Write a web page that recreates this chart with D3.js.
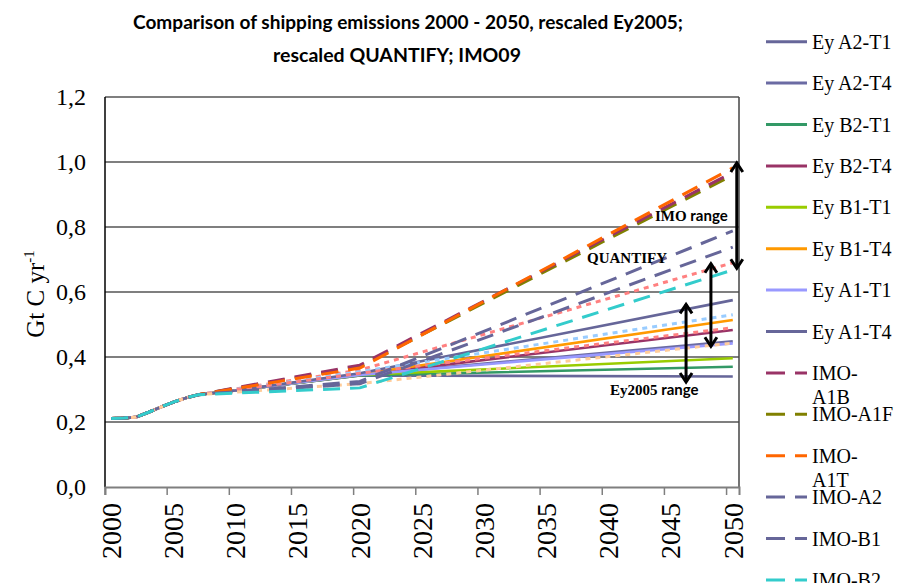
<!DOCTYPE html>
<html><head><meta charset="utf-8">
<script src="https://cdn.jsdelivr.net/npm/d3@7"></script>
<style>body{margin:0;background:#fff} svg{display:block}</style>
</head><body>
<svg id="chart" width="901" height="583"></svg>
<script>
// ---------- DATA ----------
const categories = ["2000","2001","2002","2003","2004","2005","2006","2007","2008","2009",
  "2010","2011","2012","2013","2014","2015","2016","2017","2018","2019",
  "2020","2021","2022","2023","2024","2025","2026","2027","2028","2029",
  "2030","2031","2032","2033","2034","2035","2036","2037","2038","2039",
  "2040","2041","2042","2043","2044","2045","2046","2047","2048","2049","2050"];
const xTickLabels = ["2000","2005","2010","2015","2020","2025","2030","2035","2040","2045","2050"];
const yTicks = [0.0, 0.2, 0.4, 0.6, 0.8, 1.0, 1.2];

// shared historical emissions
const histYears  = ["2000","2001","2002","2003","2004","2005","2006","2007"];
const histValues = [0.211, 0.212, 0.215, 0.230, 0.246, 0.261, 0.274, 0.284];

// scenario points after the shared history
const eyYears = ["2010","2020","2050"];
const eyA2T1 = [0.297, 0.343, 0.340];
const eyA2T4 = [0.297, 0.345, 0.448];
const eyB2T1 = [0.297, 0.343, 0.370];
const eyB2T4 = [0.297, 0.345, 0.483];
const eyB1T1 = [0.297, 0.345, 0.396];
const eyB1T4 = [0.297, 0.347, 0.514];
const eyA1T1 = [0.297, 0.345, 0.442];
const eyA1T4 = [0.297, 0.350, 0.575];

const imoYears = ["2020","2050"];
const imoA1B = [0.375, 0.968];
const imoA1F = [0.370, 0.960];
const imoA1T = [0.366, 0.982];
const imoA2  = [0.325, 0.788];
const imoB1  = [0.318, 0.738];
const imoB2  = [0.305, 0.668];

const qYears = ["2020","2050"];
const qA = [0.360, 0.690];
const qB = [0.355, 0.530];
const qC = [0.350, 0.490];
const qD = [0.318, 0.443];

const seriesNames  = ["Ey A2-T1","Ey A2-T4","Ey B2-T1","Ey B2-T4","Ey B1-T1","Ey B1-T4","Ey A1-T1","Ey A1-T4",
  "IMO-A1B","IMO-A1F","IMO-A1T","IMO-A2","IMO-B1","IMO-B2",
  "QUANTIFY-A1","QUANTIFY-A2","QUANTIFY-B1","QUANTIFY-B2"];
const seriesColors = ["#666699","#6b6ba3","#339966","#993366","#99cc00","#ff9900","#9999ff","#666699",
  "#993366","#808000","#ff6600","#666699","#666699","#33cccc",
  "#ff8080","#99ccff","#ff8080","#ffcc99"];
const seriesKind   = ["solid","solid","solid","solid","solid","solid","solid","solid",
  "dash","dash","dash","dash","dash","dash","dot","dot","dot","dot"];
const seriesYears  = [eyYears,eyYears,eyYears,eyYears,eyYears,eyYears,eyYears,eyYears,
  imoYears,imoYears,imoYears,imoYears,imoYears,imoYears,qYears,qYears,qYears,qYears];
const seriesValues = [eyA2T1,eyA2T4,eyB2T1,eyB2T4,eyB1T1,eyB1T4,eyA1T1,eyA1T4,
  imoA1B,imoA1F,imoA1T,imoA2,imoB1,imoB2,qA,qB,qC,qD];

// ---------- LAYOUT ----------
const svg = d3.select("#chart");
const L = 105, R = 739, T = 97, B = 487;
const x = d3.scaleBand().domain(categories).range([L, R]).padding(0);
const xc = c => x(c) + x.bandwidth() / 2;
const y = d3.scaleLinear().domain([0, 1.2]).range([B, T]);

// gridlines
svg.append("g").selectAll("line").data(yTicks.filter(v => v > 0)).join("line")
  .attr("x1", L).attr("x2", R).attr("y1", d => y(d)).attr("y2", d => y(d))
  .attr("stroke", "#000").attr("stroke-width", 1.2);

// frame
svg.append("line").attr("x1", L).attr("x2", L).attr("y1", T).attr("y2", B).attr("stroke", "#000").attr("stroke-width", 1.5);
svg.append("line").attr("x1", R).attr("x2", R).attr("y1", T).attr("y2", B).attr("stroke", "#444").attr("stroke-width", 1.5);

// y labels
svg.append("g").selectAll("text").data(yTicks).join("text")
  .attr("x", 86).attr("y", d => y(d)).attr("dy", "0.35em")
  .attr("text-anchor", "end")
  .attr("font-family", "Liberation Serif, Times New Roman, serif").attr("font-size", 24)
  .text(d => d3.format(".1f")(d).replace(".", ","));

// x axis
const xAxis = d3.axisBottom(x).tickValues(xTickLabels).tickSize(8).tickFormat("");
const gx = svg.append("g").attr("transform", `translate(0,${B})`).call(xAxis);
gx.select(".domain").attr("stroke", "#7f7f7f").attr("stroke-width", 2);
gx.selectAll(".tick line").attr("stroke", "#7f7f7f").attr("stroke-width", 1.5)
  .attr("transform", `translate(${-x.bandwidth()/2},0)`);
svg.append("g").selectAll("text").data(xTickLabels).join("text")
  .attr("transform", d => `translate(${xc(d)},503) rotate(-90)`)
  .attr("text-anchor", "end").attr("dy", "0.35em")
  .attr("font-family", "Liberation Serif, Times New Roman, serif").attr("font-size", 28)
  .text(d => d);

// y axis title
const yt = svg.append("text").attr("transform", "translate(44,294) rotate(-90)")
  .attr("text-anchor", "middle")
  .attr("font-family", "Liberation Serif, Times New Roman, serif").attr("font-size", 25);
yt.append("tspan").text("Gt C yr");
yt.append("tspan").attr("dy", -10).attr("font-size", 15).text("-1");

// title
svg.append("text").attr("x", 408).attr("y", 29).attr("text-anchor", "middle")
  .attr("font-family", "Lato, Open Sans, sans-serif").attr("font-weight", 700).attr("font-size", 18)
  .attr("textLength", 550).attr("lengthAdjust", "spacingAndGlyphs")
  .text("Comparison of shipping emissions 2000 - 2050, rescaled Ey2005;");
svg.append("text").attr("x", 397).attr("y", 62).attr("text-anchor", "middle")
  .attr("font-family", "Lato, Open Sans, sans-serif").attr("font-weight", 700).attr("font-size", 18)
  .attr("textLength", 248).attr("lengthAdjust", "spacingAndGlyphs")
  .text("rescaled QUANTIFY; IMO09");

// series lines
const line = d3.line().x(d => xc(d[0])).y(d => y(d[1]));
const dashFor = k => k === "dash" ? "17,10" : (k === "dot" ? "5,5" : null);
const widthFor = k => k === "solid" ? 2.6 : 3;
const plot = svg.append("g");
const order = [0,1,2,3,4,5,6,7,14,15,16,17,9,8,10,11,12,13];
order.forEach(i => {
  const pts = histYears.map((yr, j) => [yr, histValues[j]])
    .concat(seriesYears[i].map((yr, j) => [yr, seriesValues[i][j]]));
  plot.append("path").attr("d", line(pts)).attr("fill", "none")
    .attr("stroke", seriesColors[i]).attr("stroke-width", widthFor(seriesKind[i]))
    .attr("stroke-dasharray", dashFor(seriesKind[i]));
});

// annotations: range arrows
function arrow(xp, v1, v2) {
  const y1 = y(v1), y2 = y(v2);
  const g = svg.append("g").attr("stroke", "#000").attr("stroke-width", 3).attr("fill", "none");
  g.append("line").attr("x1", xp).attr("x2", xp).attr("y1", y1 + 1).attr("y2", y2 - 1);
  g.append("polyline").attr("points", `${xp-6},${y1+10} ${xp},${y1+1} ${xp+6},${y1+10}`);
  g.append("polyline").attr("points", `${xp-6},${y2-10} ${xp},${y2-1} ${xp+6},${y2-10}`);
}
arrow(xc("2050") + 4, 1.0, 0.67);
arrow(xc("2048") + 3, 0.69, 0.43);
arrow(xc("2046") + 3, 0.565, 0.32);

function label(xp, yp, serifPart, sansPart) {
  const t = svg.append("text").attr("x", xp).attr("y", yp).attr("font-weight", 700).attr("font-size", 15);
  t.append("tspan").attr("font-family", "Liberation Serif, serif").text(serifPart);
  if (sansPart) t.append("tspan").attr("font-family", "Lato, sans-serif").text(" " + sansPart);
}
label(655, 221, "IMO", "range");
label(587, 263, "QUANTIFY", null);
label(610, 395, "Ey2005", "range");

// legend
const lg = svg.append("g");
seriesNames.forEach((name, i) => {
  const ly = 41.7 + i * 41.4;
  lg.append("line").attr("x1", 766).attr("x2", 807).attr("y1", ly).attr("y2", ly)
    .attr("stroke", seriesColors[i]).attr("stroke-width", 3)
    .attr("stroke-dasharray", seriesKind[i] === "dash" ? "19,10" : (seriesKind[i] === "dot" ? "5,5" : null));
  const parts = (name === "IMO-A1B" || name === "IMO-A1T") ? ["IMO-", name.slice(4)] : [name];
  const t = lg.append("text").attr("font-family", "Liberation Serif, Times New Roman, serif").attr("font-size", 20);
  parts.forEach((p, j) => t.append("tspan").attr("x", 812).attr("y", ly + 7 + j * 24.5).text(p));
});
</script>
</body></html>
